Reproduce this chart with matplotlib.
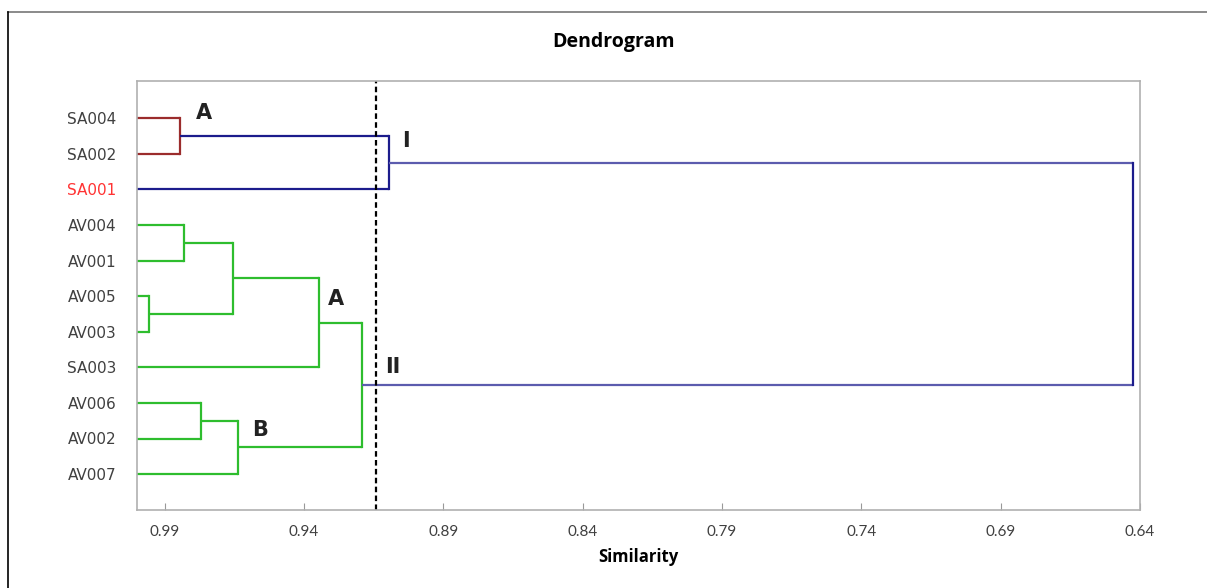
import matplotlib.pyplot as plt
from matplotlib.lines import Line2D

# leaf labels, top to bottom
leaves = ['SA004', 'SA002', 'SA001', 'AV004', 'AV001', 'AV005',
          'AV003', 'SA003', 'AV006', 'AV002', 'AV007']
leaf_colors = ['#404040', '#404040', '#ff3333'] + ['#404040'] * 8

# merges: (name, left child, right child, similarity at merge, colour)
# children are leaf names or earlier merge names
merges = [
    ('m1', 'SA004', 'SA002', 0.9845, '#9b2c2c'),
    ('I', 'm1', 'SA001', 0.9094, '#1c1c8c'),
    ('m2', 'AV004', 'AV001', 0.9830, '#2ebd2e'),
    ('m3', 'AV005', 'AV003', 0.9956, '#2ebd2e'),
    ('m4', 'm2', 'm3', 0.9653, '#2ebd2e'),
    ('A2', 'm4', 'SA003', 0.9345, '#2ebd2e'),
    ('m5', 'AV006', 'AV002', 0.9770, '#2ebd2e'),
    ('B', 'm5', 'AV007', 0.9635, '#2ebd2e'),
    ('II', 'A2', 'B', 0.9192, '#2ebd2e'),
    ('root', 'I', 'II', 0.6425, '#1c1c8c'),
]
cut_level = 0.9141
ticks = [0.99, 0.94, 0.89, 0.84, 0.79, 0.74, 0.69, 0.64]

# cluster annotations: text, similarity, leaf position
notes = [('A', 0.9758, 0.85), ('I', 0.9034, 1.64), ('A', 0.9285, 6.08),
         ('II', 0.9080, 7.99), ('B', 0.9558, 9.76)]

fig = plt.figure(figsize=(12.07, 5.88), dpi=100)
ax = fig.add_axes([136.7 / 1207, 1 - 510 / 588, (1140 - 136.7) / 1207, (510 - 81) / 588])

pos = {name: (1.0, i + 1) for i, name in enumerate(leaves)}
for name, a, b, s, c in merges:
    xa, ya = pos[a]
    xb, yb = pos[b]
    hc = c
    if name == 'root':
        hc = '#5c5cae'
    ax.plot([xa, s], [ya, ya], color=hc, lw=1.6, solid_capstyle='butt')
    ax.plot([xb, s], [yb, yb], color=hc, lw=1.6, solid_capstyle='butt')
    ax.plot([s, s], [ya, yb], color=c, lw=1.6)
    pos[name] = (s, (ya + yb) / 2)

ax.axvline(cut_level, color='black', ls=(0, (2.5, 1.5)), lw=1.6)

ax.set_xlim(1.0, 0.64)
ax.set_ylim(12.01, -0.05)
ax.set_xticks(ticks)
ax.set_xticklabels([f'{t:.2f}' for t in ticks], fontsize=11, color='#404040', family='Lato')
ax.set_yticks(range(1, len(leaves) + 1))
ax.set_yticklabels(leaves, fontsize=11, family='DejaVu Sans')
for lab, col in zip(ax.get_yticklabels(), leaf_colors):
    lab.set_color(col)
ax.tick_params(axis='x', direction='in', length=5, color='#999999', pad=11)
ax.tick_params(axis='y', length=0, pad=14.5)
for sp in ax.spines.values():
    sp.set_color('#b0b0b0')
    sp.set_linewidth(1.2)

ax.set_xlabel('Similarity', fontsize=12, fontweight='bold', family='Open Sans', labelpad=6)
fig.text(613 / 1207, 1 - 42 / 588, 'Dendrogram', ha='center', va='center',
         fontsize=14, fontweight='bold', family='Open Sans')

for txt, x, y in notes:
    ax.text(x, y, txt, fontsize=15, fontweight='bold', family='DejaVu Sans',
            color='#222222', ha='center', va='center')

# outer image border (top and left)
fig.add_artist(Line2D([7.5 / 1207, 1], [1 - 11.5 / 588, 1 - 11.5 / 588], color='#777777', lw=1.2))
fig.add_artist(Line2D([7.5 / 1207, 7.5 / 1207], [0, 1 - 11.5 / 588], color='black', lw=1.2))

fig.savefig('out.png', dpi=100)
